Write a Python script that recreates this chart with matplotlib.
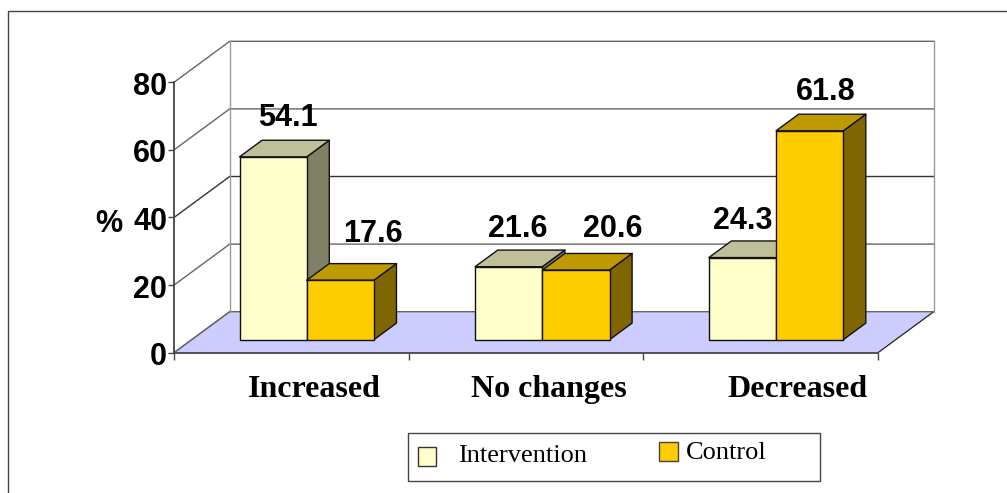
import matplotlib
matplotlib.use("Agg")
import matplotlib.pyplot as plt
from matplotlib.patches import Polygon, Rectangle
from matplotlib.transforms import ScaledTranslation

categories = ["Increased", "No changes", "Decreased"]
intervention = [54.1, 21.6, 24.3]
control = [17.6, 20.6, 61.8]
y_ticks = [0, 20, 40, 60, 80]
legend_labels = ["Intervention", "Control"]

W, H = 1007, 493
fig = plt.figure(figsize=(W / 100, H / 100), dpi=100)
SANS = "Liberation Sans"
SERIF = "Liberation Serif"


def fx(p):
    return p / W


def fy(p):
    return 1 - p / H


# Axes rectangle in pixels
L, R, T, B = 174.0, 878.0, 82.3, 352.7
ax = fig.add_axes([fx(L), fy(B), fx(R - L), (B - T) / H])
ax.set_xlim(0, 3)
ax.set_ylim(0, 80)
ax.patch.set_visible(False)

PX = 3 / (R - L)       # data x per pixel
PY = 80 / (B - T)      # data y per pixel
DX, DY = 55.7 * PX, 41 * PY  # chart depth

# outer frame: left and top edges, cut off by the image at right and bottom
fig.add_artist(plt.Line2D([fx(8), fx(8), 1], [0, fy(11), fy(11)], color="#444444", lw=1.0))

GRID = "#666666"
# floor
ax.add_patch(Polygon([(0, 0), (3, 0), (3 + DX, DY), (DX, DY)], fc="#CCCCFF", ec="none",
                     clip_on=False, zorder=1))
ax.plot([3, 3 + DX], [0, DY], color="#222222", lw=0.9, clip_on=False, zorder=2)
ax.plot([0, DX], [0, DY], color=GRID, lw=0.9, clip_on=False, zorder=2)
# back wall + side wall
for v in y_ticks:
    ax.plot([0, DX, 3 + DX], [v, v + DY, v + DY], color=GRID if v != 40 else "#333333",
            lw=1.0, clip_on=False, zorder=2)
ax.plot([DX, DX], [DY, 80 + DY], color="#999999", lw=1.0, clip_on=False, zorder=2)
ax.plot([3 + DX, 3 + DX], [DY, 80 + DY], color="#999999", lw=1.0, clip_on=False, zorder=2)

# bars
BAR_W = 67.2 * PX
group_starts = [0.204, 1.208, 2.204]
F = 13.0 / 41           # front of the bars, share of chart depth
BD = 16.6 / 41          # bar depth, share of chart depth
ox, oy = F * DX, F * DY
bx, by = BD * DX, BD * DY

COLORS = {
    0: ("#FFFFCC", "#BFBF99", "#808066"),
    1: ("#FFCC00", "#BF9900", "#806600"),
}


def bar3d(x, h, cols, z):
    x0, x1 = x + ox, x + ox + BAR_W
    y0, y1 = oy, oy + h
    front, top, side = cols
    kw = dict(ec="#111111", lw=1.0, clip_on=False, zorder=z, joinstyle="round")
    ax.add_patch(Polygon([(x1, y0), (x1 + bx, y0 + by), (x1 + bx, y1 + by), (x1, y1)], fc=side, **kw))
    ax.add_patch(Polygon([(x0, y1), (x1, y1), (x1 + bx, y1 + by), (x0 + bx, y1 + by)], fc=top, **kw))
    ax.add_patch(Polygon([(x0, y0), (x1, y0), (x1, y1), (x0, y1)], fc=front, **kw))
    return (x0 + x1) / 2, y1


label_offsets = [[(15, 39), (33, 46)], [(9, 38), (37, 41)], [(0, 37), (16, 39)]]
for i in range(len(categories)):
    for s, vals in enumerate((intervention, control)):
        cx, top = bar3d(group_starts[i] + s * BAR_W, vals[i], COLORS[s], 3 + s)
        dx, dy = label_offsets[i][s]
        ax.text(cx + dx * PX, top + dy * PY, f"{vals[i]:.1f}", ha="center", va="center",
                family=SANS, weight="bold", fontsize=22, color="black", zorder=10, clip_on=False)

# axes
for name in ("top", "right"):
    ax.spines[name].set_visible(False)
for name in ("left", "bottom"):
    ax.spines[name].set_color("#444444")
    ax.spines[name].set_linewidth(1.3)
    ax.spines[name].set_zorder(6)
ax.set_yticks(y_ticks)
ax.set_yticklabels([str(v) for v in y_ticks], family=SANS, weight="bold", fontsize=22)
ax.set_xticks(range(4))
ax.set_xticklabels([])
ax.tick_params(axis="y", length=4, width=1, color="#444444", pad=1)
ax.tick_params(axis="x", length=5, width=1, color="#444444")
for lab in ax.get_yticklabels():
    lab.set_transform(lab.get_transform() + ScaledTranslation(0, -1 / 100, fig.dpi_scale_trans))

category_centers = [0.597, 1.598, 2.659]
label_tr = ax.get_xaxis_transform() + ScaledTranslation(0, -44 / 100, fig.dpi_scale_trans)
for c, xc in zip(categories, category_centers):
    ax.text(xc, 0, c, transform=label_tr, ha="center", va="baseline",
            family=SERIF, weight="bold", fontsize=23, color="black", clip_on=False)

fig.text(fx(109), fy(224), "%", ha="center", va="center", family=SANS, weight="bold", fontsize=22)

# legend
fig.add_artist(Rectangle((fx(407.5), fy(481)), fx(412), 48 / H, transform=fig.transFigure,
                         fc="white", ec="#444444", lw=1.0))
fig.add_artist(Rectangle((fx(417.5), fy(465.5)), fx(18.5), 18.5 / H, transform=fig.transFigure,
                         fc=COLORS[0][0], ec="#333333", lw=1.0))
fig.add_artist(Rectangle((fx(659), fy(460.5)), fx(18.5), 18.5 / H, transform=fig.transFigure,
                         fc=COLORS[1][0], ec="#444444", lw=1.0))
fig.text(fx(458), fy(462), legend_labels[0], family=SERIF, fontsize=19, va="baseline")
fig.text(fx(686), fy(459), legend_labels[1], family=SERIF, fontsize=19, va="baseline")

fig.savefig("out.png", dpi=100)
